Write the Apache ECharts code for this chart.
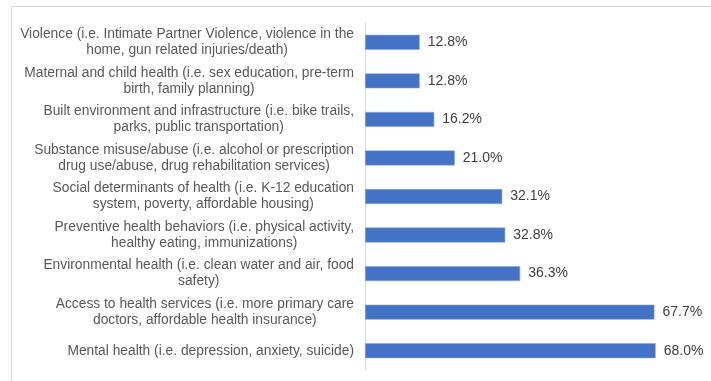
<!DOCTYPE html>
<html>
<head>
<meta charset="utf-8">
<script src="https://cdn.jsdelivr.net/npm/echarts@6/dist/echarts.min.js"></script>
<style>
  html, body { margin: 0; padding: 0; background: #fff; }
  #chart { width: 711px; height: 381px; }
</style>
</head>
<body>
<div id="chart"></div>
<script>
// bottom to top, as the axis draws them
const categories = [
    'Mental health (i.e. depression, anxiety, suicide)',
    'Access to health services (i.e. more primary care\ndoctors, affordable health insurance)',
    'Environmental health (i.e. clean water and air, food\nsafety)',
    'Preventive health behaviors (i.e. physical activity,\nhealthy eating, immunizations)',
    'Social determinants of health (i.e. K-12 education\nsystem, poverty, affordable housing)',
    'Substance misuse/abuse (i.e. alcohol or prescription\ndrug use/abuse, drug rehabilitation services)',
    'Built environment and infrastructure (i.e. bike trails,\nparks, public transportation)',
    'Maternal and child health (i.e. sex education, pre-term\nbirth, family planning)',
    'Violence (i.e. Intimate Partner Violence, violence in the\nhome, gun related injuries/death)'
];
const percentValues = [68.0, 67.7, 36.3, 32.8, 32.1, 21.0, 16.2, 12.8, 12.8];

const chart = echarts.init(document.getElementById('chart'));

// each line centred inside a right-aligned block
function centredLines(value) {
    return value.split('\n').map(function (line) {
        return '{c|' + line + '}';
    }).join('\n');
}

const options = {
    animation: false,
    textStyle: { fontFamily: 'Liberation Sans, Arial, sans-serif' },
    graphic: [{
        type: 'rect',
        shape: { x: 11.5, y: 6.5, width: 760, height: 420 },
        style: { fill: 'none', stroke: '#d9d9d9', lineWidth: 1 },
        silent: true
    }],
    grid: { left: 365, top: 23, width: 342, height: 347, containLabel: false },
    xAxis: {
        type: 'value',
        min: 0,
        max: 80,
        show: false
    },
    yAxis: {
        type: 'category',
        data: categories,
        axisLine: { show: true, lineStyle: { color: '#d9d9d9', width: 1 } },
        axisTick: { show: false },
        axisLabel: {
            margin: 11,
            align: 'right',
            color: '#595959',
            fontSize: 13.8,
            lineHeight: 16,
            formatter: centredLines,
            rich: {
                c: { align: 'center', color: '#595959', fontSize: 13.8, lineHeight: 16 }
            }
        }
    },
    series: [{
        type: 'bar',
        data: percentValues,
        barWidth: 15,
        itemStyle: { color: '#4472c4', borderColor: '#8faadc', borderWidth: 0.6 },
        label: {
            show: true,
            position: 'right',
            distance: 8,
            color: '#404040',
            fontSize: 14,
            formatter: function (p) { return p.value.toFixed(1) + '%'; }
        }
    }]
};
chart.setOption(options);
</script>
</body>
</html>
